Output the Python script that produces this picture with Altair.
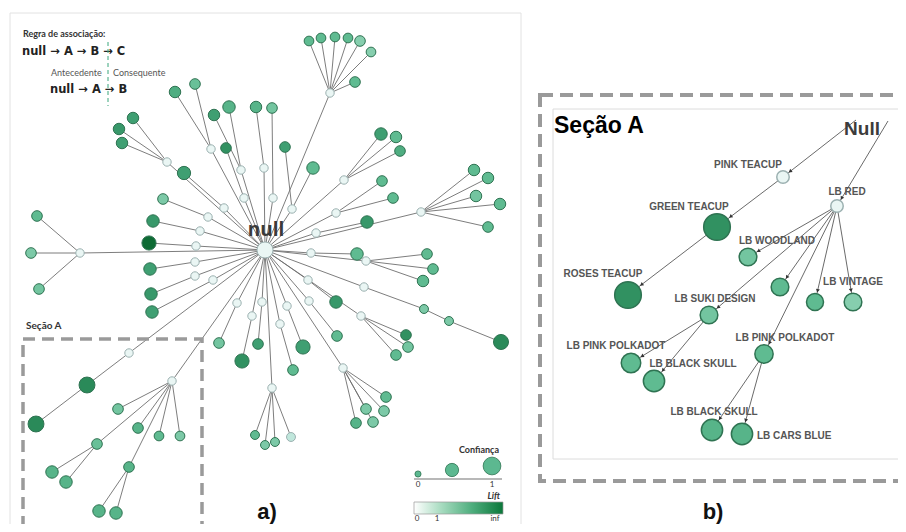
import altair as alt
import pandas as pd

# ---------------- Panel a: rule tree (node id, position, parent, confidence, lift) ----------------
a_id = ["C",
        "h1", "t1", "t2", "t3", "t4", "t5", "t6", "t7",
        "h2", "u1", "u2", "u3",
        "h3", "v1", "v2",
        "h4", "w1", "w2",
        "h5", "x1",
        "h6", "y1", "y2", "y3", "y4", "y5",
        "h7", "z1",
        "h8", "z2", "z3", "z4",
        "h9", "c1", "c2", "c3",
        "h10", "d1",
        "h11", "d2", "d3", "d4",
        "h12", "e1", "h13", "e2", "h14", "e3", "h15", "e4", "h16", "e5", "h17", "e6",
        "h18", "f1", "f2", "f3", "f4",
        "h19", "g1", "g2", "g3", "g4", "g5",
        "h20", "k1", "h21", "k2", "h22", "k3", "h23", "k4", "h24", "k5", "h25", "k6",
        "h26", "m1", "m2", "m3",
        "h27", "p1", "p2", "p3",
        "h28", "p4",
        "h29", "q1", "q2",
        "h30", "q3", "q4",
        "h31", "q5", "h32", "q6", "h33", "q7",
        "s0", "s1", "s2",
        "lr", "r1", "r2", "r3", "r4", "r5", "r6", "r7", "r8", "r9", "r10"]
a_x = [265,
       330, 309, 321, 335, 348, 360, 371, 355,
       344, 381, 396, 400,
       292, 313, 285,
       336, 382, 393,
       316, 367,
       421, 474, 488, 476, 500, 488,
       311, 357,
       366, 427, 433, 423,
       364, 424, 449, 501,
       308, 336,
       361, 406, 408, 396,
       309, 337, 287, 303, 280, 293, 262, 258, 252, 242, 237, 219,
       272, 255, 265, 275, 291,
       343, 386, 366, 384, 356, 373,
       208, 163, 200, 153, 196, 149, 195, 150, 195, 151, 213, 152,
       80, 37, 31, 39,
       167, 133, 119, 122,
       224, 184,
       211, 175, 195,
       241, 214, 229,
       244, 226, 264, 256, 273, 272,
       129, 87, 36,
       172, 118, 138, 97, 129, 159, 180, 52, 66, 99, 116]
a_y = [250,
       93, 41, 38, 37, 38, 41, 52, 82,
       180, 134, 137, 151,
       209, 168, 147,
       213, 181, 198,
       233, 222,
       212, 170, 178, 196, 204, 227,
       253, 254,
       261, 254, 269, 281,
       287, 309, 321, 342,
       280, 302,
       316, 335, 347, 355,
       301, 336, 306, 347, 324, 370, 302, 344, 316, 361, 303, 343,
       388, 435, 445, 442, 437,
       368, 397, 409, 411, 423, 422,
       217, 199, 231, 221, 246, 243, 262, 269, 276, 294, 280, 312,
       253, 216, 253, 289,
       162, 118, 129, 143,
       208, 173,
       149, 92, 84,
       170, 115, 107,
       198, 148, 168, 107, 198, 108,
       353, 385, 424,
       381, 409, 428, 444, 467, 436, 436, 472, 482, 511, 513]
a_parent = ["",
            "C", "h1", "h1", "h1", "h1", "h1", "h1", "h1",
            "C", "h2", "h2", "h2",
            "C", "h3", "h3",
            "C", "h4", "h4",
            "C", "h5",
            "C", "h6", "h6", "h6", "h6", "h6",
            "C", "h7",
            "C", "h8", "h8", "h8",
            "C", "h9", "c1", "c2",
            "C", "h10",
            "C", "h11", "h11", "h11",
            "C", "h12", "C", "h13", "C", "h14", "C", "h15", "C", "h16", "C", "h17",
            "C", "h18", "h18", "h18", "h18",
            "C", "h19", "h19", "h19", "h19", "h19",
            "C", "h20", "C", "h21", "C", "h22", "C", "h23", "C", "h24", "C", "h25",
            "C", "h26", "h26", "h26",
            "C", "h27", "h27", "h27",
            "C", "h28",
            "C", "h29", "h29",
            "C", "h30", "h30",
            "C", "h31", "C", "h32", "C", "h33",
            "C", "s0", "s1",
            "C", "lr", "lr", "lr", "lr", "lr", "lr", "r3", "r3", "r4", "r4"]
a_conf = [1.0,
          0.1, 0.21, 0.21, 0.21, 0.21, 0.30, 0.21, 0.30,
          0.1, 0.50, 0.39, 0.30,
          0.1, 0.50, 0.30,
          0.1, 0.30, 0.30,
          0.1, 0.50,
          0.1, 0.39, 0.39, 0.39, 0.39, 0.30,
          0.1, 0.50,
          0.1, 0.30, 0.30, 0.39,
          0.1, 0.14, 0.14, 0.84,
          0.1, 0.50,
          0.1, 0.30, 0.30, 0.30,
          0.1, 0.30, 0.1, 0.72, 0.1, 0.30, 0.1, 0.30, 0.1, 0.72, 0.1, 0.30,
          0.1, 0.14, 0.14, 0.14, 0.14,
          0.1, 0.30, 0.30, 0.30, 0.30, 0.30,
          0.1, 0.30, 0.1, 0.50, 0.1, 0.72, 0.1, 0.50, 0.1, 0.50, 0.1, 0.50,
          0.1, 0.30, 0.30, 0.30,
          0.1, 0.39, 0.39, 0.39,
          0.1, 0.60,
          0.1, 0.39, 0.30,
          0.1, 0.39, 0.50,
          0.1, 0.30, 0.1, 0.39, 0.1, 0.30,
          0.1, 0.97, 0.97,
          0.1, 0.30, 0.30, 0.30, 0.30, 0.21, 0.21, 0.50, 0.50, 0.50, 0.50]
a_lift = [0.0,
          0.0, 0.5, 0.5, 0.5, 0.5, 0.3, 0.3, 0.5,
          0.0, 0.7, 0.5, 0.6,
          0.0, 0.5, 0.7,
          0.0, 0.5, 0.5,
          0.0, 0.75,
          0.0, 0.5, 0.5, 0.4, 0.5, 0.5,
          0.0, 0.5,
          0.0, 0.5, 0.5, 0.5,
          0.0, 0.35, 0.35, 0.85,
          0.0, 0.75,
          0.0, 0.8, 0.4, 0.5,
          0.0, 0.5, 0.0, 0.7, 0.0, 0.5, 0.0, 0.7, 0.0, 0.8, 0.0, 0.4,
          0.0, 0.5, 0.35, 0.35, 0.12,
          0.0, 0.5, 0.35, 0.35, 0.55, 0.35,
          0.0, 0.35, 0.0, 0.75, 0.0, 1.0, 0.0, 0.7, 0.0, 0.75, 0.0, 0.7,
          0.0, 0.5, 0.35, 0.4,
          0.0, 0.7, 0.75, 0.7,
          0.0, 0.7,
          0.0, 0.6, 0.45,
          0.0, 0.7, 0.55,
          0.0, 0.8, 0.0, 0.55, 0.0, 0.4,
          0.0, 0.85, 0.85,
          0.0, 0.4, 0.55, 0.45, 0.55, 0.5, 0.35, 0.55, 0.55, 0.55, 0.55]

# ---------------- Panel b: zoom of "Seção A" ----------------
b_id = ["PT", "LR", "GT", "RT", "LW", "U1", "V1", "V2", "SK", "PP1", "BS1", "PP2", "BS2", "CB"]
b_x = [783, 837, 717, 628, 748, 780, 815, 853, 709, 631, 654, 764, 712, 742]
b_y = [177, 206, 227, 295, 257, 287, 302, 302, 315, 363, 381, 354, 430, 434]
b_parent = ["N1", "N2", "PT", "GT", "LR", "LR", "LR", "LR", "LR", "SK", "SK", "LR", "PP2", "PP2"]
b_conf = [0.01, 0.01, 1.0, 1.0, 0.29, 0.29, 0.25, 0.29, 0.29, 0.41, 0.54, 0.33, 0.54, 0.54]
b_lift = [0.0, 0.0, 0.8, 0.8, 0.4, 0.5, 0.5, 0.3, 0.4, 0.5, 0.5, 0.5, 0.55, 0.55]
null_src = {"N1": (856, 120), "N2": (888, 121)}

lab_text = ["PINK TEACUP", "LB RED", "GREEN TEACUP", "ROSES TEACUP", "LB WOODLAND", "LB VINTAGE",
            "LB SUKI DESIGN", "LB PINK POLKADOT", "LB BLACK SKULL", "LB PINK POLKADOT",
            "LB BLACK SKULL"]
lab_x = [748, 847, 689, 603, 777, 853, 715, 616, 693, 785, 714]
lab_y = [165, 192, 207, 274, 241, 282, 299, 346, 364, 338, 412]

# ---------------- scales ----------------
XS = alt.Scale(domain=[8, 898], nice=False, zero=False)
YS = alt.Scale(domain=[8, 524], nice=False, zero=False, reverse=True)


def X(f="x"):
    return alt.X(f"{f}:Q", scale=XS, axis=None)


def Y(f="y"):
    return alt.Y(f"{f}:Q", scale=YS, axis=None)


LIFT_DOM = [0, 0.3, 0.5, 0.7, 0.85, 1.0]
LIFT_RNG = ["#eaf6f4", "#86ceae", "#5fbb91", "#3f9f72", "#2a8a59", "#0e6b34"]
lift_scale = alt.Scale(domain=LIFT_DOM, range=LIFT_RNG, type="linear")

na = pd.DataFrame({"id": a_id, "x": a_x, "y": a_y, "parent": a_parent, "conf": a_conf, "lift": a_lift})
pos_a = {i: (x, y) for i, x, y in zip(a_id, a_x, a_y)}
ea = pd.DataFrame([{"x1": pos_a[p][0], "y1": pos_a[p][1], "x2": x, "y2": y}
                   for x, y, p in zip(a_x, a_y, a_parent) if p])

nb = pd.DataFrame({"id": b_id, "x": b_x, "y": b_y, "parent": b_parent, "conf": b_conf, "lift": b_lift})
pos_b = dict(null_src)
pos_b.update({i: (x, y) for i, x, y in zip(b_id, b_x, b_y)})
eb = pd.DataFrame([{"x1": pos_b[p][0], "y1": pos_b[p][1], "x2": x, "y2": y, "conf": c}
                   for x, y, p, c in zip(b_x, b_y, b_parent, b_conf)])


def box(x, x2, y, y2, **kw):
    return alt.Chart(pd.DataFrame({"x": [x], "x2": [x2], "y": [y], "y2": [y2]})).mark_rect(
        fillOpacity=0, **kw).encode(x=X(), x2="x2:Q", y=Y(), y2="y2:Q")


def texts(items, **kw):
    df = pd.DataFrame(items, columns=["t", "x", "y"])
    return alt.Chart(df).mark_text(**kw).encode(x=X(), y=Y(), text="t:N")


stroke_cond = alt.condition(alt.datum.lift < 0.15, alt.value("#9cb1b1"), alt.value("#2f7352"))

frame_a = box(10, 521, 13, 560, stroke="#e2e2e2", strokeWidth=1)

edges_a = alt.Chart(ea).mark_rule(color="#6e6e6e", strokeWidth=0.9).encode(
    x=X("x1"), y=Y("y1"), x2="x2:Q", y2="y2:Q")

nodes_a = alt.Chart(na).mark_circle(opacity=1, strokeWidth=1).encode(
    x=X(), y=Y(),
    size=alt.Size("conf:Q", scale=alt.Scale(domain=[0, 1], range=[50, 260]), legend=None),
    color=alt.Color("lift:Q", scale=lift_scale, legend=None),
    stroke=stroke_cond)

null_lbl = texts([["null", 266, 236]], font="Open Sans", fontSize=19, fontWeight="bold",
                 color="#3a3a3a", baseline="alphabetic", align="center")

ann_bold = texts([["Regra de associação:", 23, 34]], font="Lato", fontSize=9, fontWeight="bold",
                 color="#333333", align="left", baseline="middle")
ann_rule = texts([["null → A → B → C", 22, 52], ["null → A → B", 50, 90]], font="DejaVu Sans",
                 fontSize=11.5, fontWeight="bold", color="#222222", align="left", baseline="middle")
ann_small = texts([["Antecedente", 51, 73], ["Consequente", 113, 73]], font="Lato", fontSize=9,
                  color="#555555", align="left", baseline="middle")
ann_div = alt.Chart(pd.DataFrame({"x": [108], "y": [42], "y2": [106]})).mark_rule(
    color="#3aa67c", strokeWidth=1, strokeDash=[4, 3]).encode(x=X(), y=Y(), y2="y2:Q")

secA_lbl = texts([["Seção A", 26, 326]], font="Lato", fontSize=10, fontWeight="bold",
                 color="#333333", align="left", baseline="middle")
secA_box = box(23, 202, 339, 530, stroke="#9a9a9a", strokeWidth=3.5, strokeDash=[12, 7])

# ---- legend (panel a) ----
leg_c = pd.DataFrame({"conf": [0, 0.5, 1], "x": [418, 452, 492], "y": [474, 470, 466]})
leg_circles = alt.Chart(leg_c).mark_circle(opacity=1, color="#5cb890", stroke="#2f7352",
                                           strokeWidth=0.8).encode(
    x=X(), y=Y(), size=alt.Size("conf:Q", scale=alt.Scale(domain=[0, 1], range=[38, 314]), legend=None))
leg_base = alt.Chart(pd.DataFrame({"x": [414], "x2": [502], "y": [479]})).mark_rule(
    color="#a0a0a0", strokeWidth=1.5).encode(x=X(), x2="x2:Q", y=Y())
leg_title = texts([["Confiança", 499, 450]], font="Lato", fontSize=9, fontWeight="bold",
                  color="#333333", align="right", baseline="middle")
leg_lift = texts([["Lift", 500, 496]], font="Lato", fontSize=9, fontWeight="bold", fontStyle="italic",
                 color="#333333", align="right", baseline="middle")
leg_nums = texts([["0", 418, 485], ["1", 492, 485], ["0", 417, 519], ["1", 437, 519], ["inf", 495, 519]],
                 font="Lato", fontSize=8, color="#333333", align="center", baseline="middle")
grad = alt.LinearGradient(gradient="linear", x1=0, x2=1, y1=0, y2=0,
                          stops=[alt.GradientStop(color="#ffffff", offset=0),
                                 alt.GradientStop(color="#a9dcc1", offset=0.3),
                                 alt.GradientStop(color="#4fae7e", offset=0.65),
                                 alt.GradientStop(color="#0b773a", offset=1)])
leg_grad = alt.Chart(pd.DataFrame({"x": [414], "x2": [503], "y": [502], "y2": [514]})).mark_rect(
    color=grad, stroke="#999999", strokeWidth=0.7).encode(x=X(), x2="x2:Q", y=Y(), y2="y2:Q")

tag_ab = texts([["a)", 267, 512], ["b)", 713, 512]], font="Liberation Sans", fontSize=22,
               fontWeight="bold", color="#111111", align="center", baseline="middle")

# ---- panel b ----
outer_b = box(540, 930, 95, 481, stroke="#9a9a9a", strokeWidth=4, strokeDash=[13, 7])
inner_b = box(553, 930, 109, 459, stroke="#dcdcdc", strokeWidth=1)
title_b = texts([["Seção A", 554, 133]], font="Liberation Sans", fontSize=23, fontWeight="bold",
                color="#000000", align="left", baseline="alphabetic")
null_b = texts([["Null", 862, 135]], font="Liberation Sans", fontSize=19, fontWeight="bold",
               color="#3c3c3c", align="center", baseline="alphabetic")

edges_b = alt.Chart(eb).mark_rule(color="#444444", strokeWidth=0.8).encode(
    x=X("x1"), y=Y("y1"), x2="x2:Q", y2="y2:Q")

arrows_b = alt.Chart(eb).transform_calculate(
    dx="datum.x2 - datum.x1", dy="datum.y2 - datum.y1"
).transform_calculate(
    L="sqrt(datum.dx*datum.dx + datum.dy*datum.dy)",
    rr="sqrt((150 + 560*datum.conf)/PI) + 2.5",
    ang="(atan2(datum.dx, -datum.dy)*180/PI + 360) % 360"
).transform_calculate(
    ax="datum.x2 - datum.dx/datum.L*datum.rr",
    ay="datum.y2 - datum.dy/datum.L*datum.rr"
).mark_point(shape="triangle", filled=True, color="#333333", size=16, opacity=1).encode(
    x=X("ax"), y=Y("ay"), angle=alt.Angle("ang:Q", scale=None))

nodes_b = alt.Chart(nb).mark_circle(opacity=1, strokeWidth=1.5).encode(
    x=X(), y=Y(),
    size=alt.Size("conf:Q", scale=alt.Scale(domain=[0, 1], range=[150, 710]), legend=None),
    color=alt.Color("lift:Q", scale=lift_scale, legend=None),
    stroke=stroke_cond)

labels_b = texts(list(zip(lab_text, lab_x, lab_y)), font="Liberation Sans", fontSize=10,
                 fontWeight="bold", color="#555555", align="center", baseline="middle")
label_cb = texts([["LB CARS BLUE", 757, 436]], font="Liberation Sans", fontSize=10,
                 fontWeight="bold", color="#555555", align="left", baseline="middle")

chart = alt.layer(
    frame_a, edges_a, nodes_a, null_lbl,
    ann_bold, ann_rule, ann_small, ann_div, secA_lbl, secA_box,
    leg_circles, leg_base, leg_title, leg_lift, leg_nums, leg_grad, tag_ab,
    outer_b, inner_b, edges_b, nodes_b, arrows_b, title_b, null_b, labels_b, label_cb
).resolve_scale(size="independent").properties(
    width=890, height=516, padding=0, autosize="none", background="white"
).configure_view(stroke=None)

chart.save("out.html", embed_options={"renderer": "svg", "actions": False})
